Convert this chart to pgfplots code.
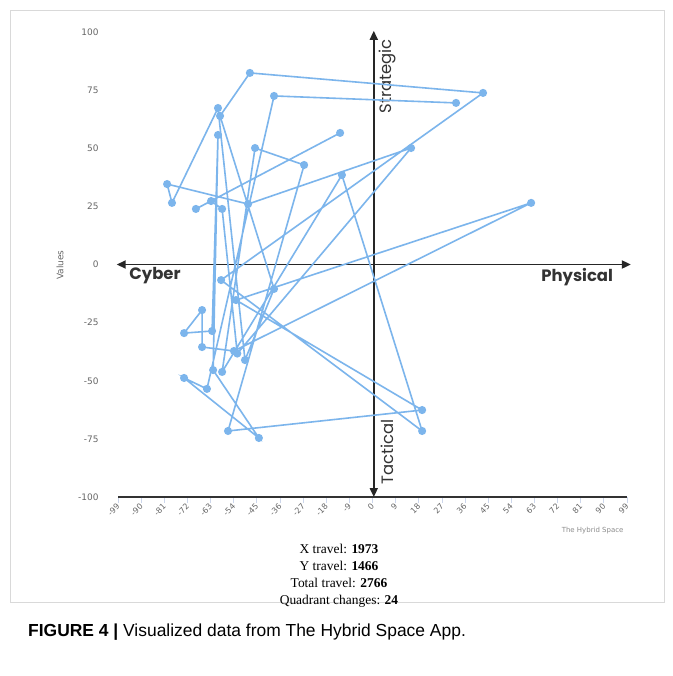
\documentclass[border=0pt]{standalone}
\usepackage{pgfplots}
\pgfplotsset{compat=1.18}
\usepackage{fontspec}
\setmainfont{Liberation Serif}
\newfontfamily\hcfont{DejaVu Sans}
\newfontfamily\labfont{Poppins}
\newfontfamily\capfont{Liberation Sans}
\usetikzlibrary{arrows.meta}
\definecolor{hcblue}{HTML}{7CB5EC}
\definecolor{tickc}{HTML}{CCD6EB}
\definecolor{lblc}{HTML}{666666}
\definecolor{axc}{HTML}{333333}
\begin{document}
\begin{tikzpicture}
\path[use as bounding box] (0,0) rectangle (673bp,-676bp);
\fill[white] (0,0) rectangle (673bp,-676bp);
\draw[draw=black!15, line width=0.8bp] (10bp,-10bp) rectangle (664bp,-602bp);
\node[rotate=90, font=\hcfont\fontsize{9}{10}\selectfont, text=lblc] at (60bp,-265bp) {Values};
\begin{axis}[
  at={(118bp,-497bp)}, anchor=south west,
  scale only axis, width=509bp, height=465bp,
  xmin=-99, xmax=99, ymin=-100, ymax=100,
  axis x line*=bottom, axis y line*=left,
  y axis line style={draw=none},
  x axis line style={draw=axc, line width=1.2bp, -},
  xtick={-99,-90,...,99}, ytick={-100,-75,...,100},
  ytick style={draw=none},
  xtick style={draw=tickc, line width=0.8bp},
  tick align=outside, major tick length=6bp,
  xticklabel style={rotate=45, anchor=east, font=\hcfont\fontsize{8}{9}\selectfont, text=lblc, inner sep=1bp, yshift=-1.5bp},
  yticklabel style={font=\hcfont\fontsize{9}{10}\selectfont, text=lblc, xshift=-10bp},
  /pgf/number format/assume math mode=true,
  clip=false,
]
\draw[color=black!85, line width=1.8bp, {Triangle[length=9bp,width=8bp]}-{Triangle[length=9bp,width=8bp]}] (axis cs:-99.5,0) -- (axis cs:100.5,0);
\draw[color=black!85, line width=1.8bp, {Triangle[length=9bp,width=8bp]}-{Triangle[length=9bp,width=8bp]}] (axis cs:0.5,100.5) -- (axis cs:0.5,-100);
\node[font=\labfont\fontsize{16.5}{18}\selectfont\bfseries, text=axc] at (axis cs:-84.6,-4.9) {Cyber};
\node[font=\labfont\fontsize{16.5}{18}\selectfont\bfseries, text=axc] at (axis cs:79.6,-5.4) {Physical};
\node[rotate=90, font=\labfont\fontsize{16.5}{18}\selectfont, text=axc] at (axis cs:5.8,81.0) {Strategic};
\node[rotate=90, font=\labfont\fontsize{16.5}{18}\selectfont, text=axc] at (axis cs:5.8,-80.6) {Tactical};
\addplot[color=hcblue, line width=1.6bp, mark=*, mark size=3.2bp, mark options={fill=hcblue, draw=hcblue}] coordinates {
(32.5,69.5) (-38.3,72.5) (-64.4,-53.5) (-73.3,-48.8) (-44.2,-74.6) (-62.0,-45.4)
(-60.1,55.7) (-62.4,-28.6) (-73.3,-29.5) (-66.3,-19.6) (-66.3,-35.5) (-53.9,-37.2)
(61.7,26.5) (-53.1,-15.3) (19.3,-62.6) (-56.2,-71.6) (-26.6,42.8) (-45.7,50.1)
(-58.5,-46.2) (-11.9,38.5) (19.3,-71.6) (-58.9,-6.7) (43.0,73.8) (-47.7,82.4)
(-59.3,63.9) (-38.3,-10.5) (-49.6,-41.1) (-60.1,67.3) (-78.0,26.5) (-79.9,34.6)
(-48.4,26.0) (15.0,50.1) (-52.6,-38.3) (-58.5,23.9) (-62.8,27.3) (-68.7,23.9)
(-12.6,56.6)
};
\end{axis}
\node[anchor=east, font=\hcfont\fontsize{7}{8}\selectfont, text=black!45] at (627bp,-531bp) {The Hybrid Space};
\node[align=center, font=\fontsize{13.5}{17}\selectfont, anchor=north] at (339bp,-541bp) {X travel: \textbf{1973}\\Y travel: \textbf{1466}\\Total travel: \textbf{2766}\\Quadrant changes: \textbf{24}};
\node[anchor=base west, font=\capfont\fontsize{17.5}{20}\selectfont, inner sep=0pt] at (28bp,-636bp) {\textbf{FIGURE 4 |} Visualized data from The Hybrid Space App.};
\end{tikzpicture}
\end{document}
